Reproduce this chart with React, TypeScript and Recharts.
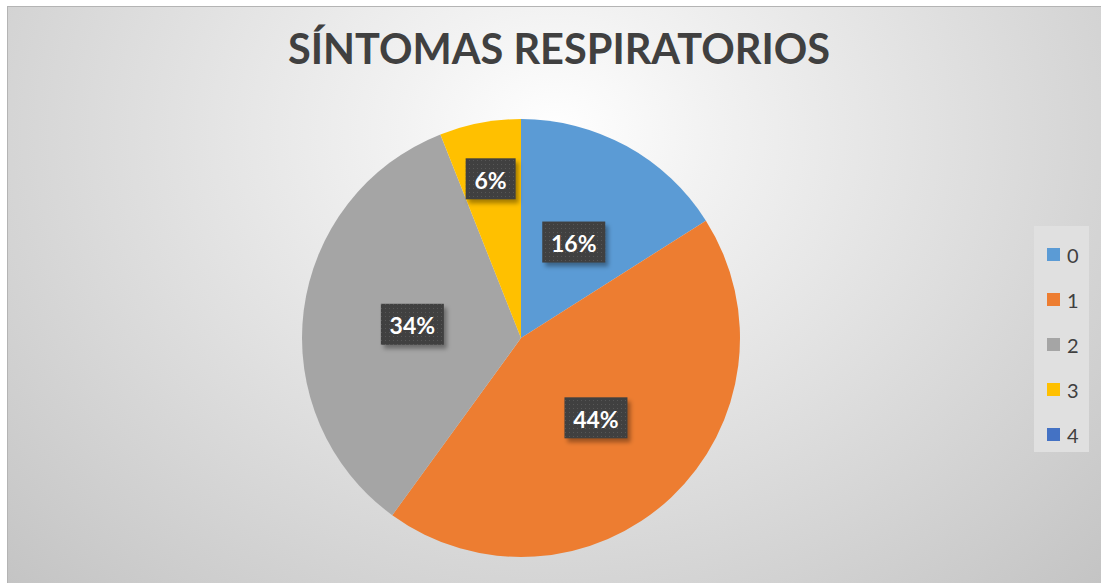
import { PieChart, Pie, Cell, Legend } from 'recharts';

const categories = ['0', '1', '2', '3', '4'];
const percents = [16, 44, 34, 6, 0];
const COLORS = [
  '#5B9BD5', // blue
  '#ED7D31', // orange
  '#A5A5A5', // gray
  '#FFC000', // yellow
  '#4472C4', // dark blue
];
const TITLE = 'SÍNTOMAS RESPIRATORIOS';

const data = categories.map((name, i) => ({ name, value: percents[i] }));

const RAD = Math.PI / 180;
const FONT = 'Lato, "Open Sans", sans-serif';

const renderLabel = (props: any) => {
  const { cx, cy, midAngle, outerRadius, percent, index } = props;
  if (!percent) return null;
  // small slices get pushed outwards, like Excel's best fit
  const r = outerRadius * (percent < 0.1 ? 0.74 : 0.5);
  const x = cx + r * Math.cos(-midAngle * RAD);
  const y = cy + r * Math.sin(-midAngle * RAD);
  const text = `${Math.round(percent * 100)}%`;
  const w = text.length > 2 ? 63 : 50;
  const h = 41;
  return (
    <g key={`lbl-${index}`}>
      <rect
        x={x - w / 2 + 3}
        y={y - h / 2 + 4}
        width={w}
        height={h}
        fill="rgba(0,0,0,0.35)"
        filter="url(#lblShadow)"
      />
      <rect x={x - w / 2} y={y - h / 2} width={w} height={h} fill="url(#lblDots)" />
      <text
        x={x}
        y={y + 1}
        textAnchor="middle"
        dominantBaseline="central"
        fill="#fff"
        fontFamily={FONT}
        fontWeight={700}
        fontSize={23}
      >
        {text}
      </text>
    </g>
  );
};

const renderLegend = (props: any) => {
  const { payload } = props;
  return (
    <div
      style={{
        background: '#e0e0e0',
        width: 55,
        height: 226,
        boxSizing: 'border-box',
        paddingTop: 14,
      }}
    >
      {payload.map((entry: any, i: number) => (
        <div
          key={`leg-${i}`}
          style={{ display: 'flex', alignItems: 'center', height: 45, marginTop: i === 0 ? -8 : 0 }}
        >
          <span
            style={{
              display: 'inline-block',
              width: 13,
              height: 13,
              marginLeft: 13,
              background: entry.color,
            }}
          />
          <span
            style={{
              marginLeft: 7,
              fontFamily: FONT,
              fontSize: 20,
              color: '#404040',
            }}
          >
            {entry.value}
          </span>
        </div>
      ))}
    </div>
  );
};

export default function App() {
  return (
    <div
      style={{
        position: 'absolute',
        left: 7,
        top: 6,
        width: 1094,
        height: 577,
        borderTop: '1px solid #b4b4b4',
        borderLeft: '1px solid #b4b4b4',
        boxSizing: 'border-box',
        background:
          'radial-gradient(ellipse farthest-corner at 50% 22%, #ffffff 0%, #f2f2f2 20%, #c4c4c4 100%)',
      }}
    >
      <svg
        width={1094}
        height={80}
        style={{ position: 'absolute', left: 0, top: 0 }}
      >
        <text
          x={551}
          y={57}
          textAnchor="middle"
          fill="#404040"
          fontFamily={FONT}
          fontWeight={700}
          fontSize={42}
          textLength={542}
          lengthAdjust="spacingAndGlyphs"
        >
          {TITLE}
        </text>
      </svg>
      <PieChart
        width={1093}
        height={576}
        margin={{ top: 0, right: 0, bottom: 0, left: 0 }}
        style={{ position: 'absolute', left: 0, top: 0 }}
      >
        <defs>
          <pattern id="lblDots" width="4" height="4" patternUnits="userSpaceOnUse">
            <rect width="4" height="4" fill="#404040" />
            <rect x="1" y="1" width="1" height="1" fill="#575757" />
          </pattern>
          <filter id="lblShadow" x="-20%" y="-20%" width="140%" height="140%">
            <feGaussianBlur stdDeviation="2" />
          </filter>
        </defs>
        <Pie
          data={data}
          dataKey="value"
          nameKey="name"
          cx={513}
          cy={331}
          outerRadius={219}
          startAngle={90}
          endAngle={-270}
          stroke="none"
          label={renderLabel}
          labelLine={false}
          isAnimationActive={false}
        >
          {data.map((_, index) => (
            <Cell key={`cell-${index}`} fill={COLORS[index % COLORS.length]} />
          ))}
        </Pie>
        <Legend
          layout="vertical"
          align="right"
          verticalAlign="top"
          content={renderLegend}
          wrapperStyle={{ left: 1026, top: 219, width: 55, height: 226 }}
        />
      </PieChart>
    </div>
  );
}
